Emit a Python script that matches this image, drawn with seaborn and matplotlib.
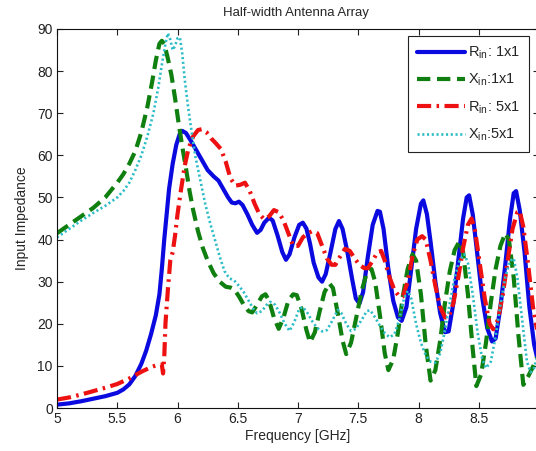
import matplotlib
matplotlib.use("Agg")
from matplotlib import pyplot as plt
import seaborn as sns

# R_in 1x1 (blue solid)
r11_f = [5.00, 5.10, 5.20, 5.30, 5.40, 5.50, 5.55, 5.60, 5.65, 5.70, 5.74, 5.78, 5.82, 5.85, 5.87,
         5.89, 5.91, 5.93, 5.96, 5.99, 6.02, 6.04, 6.07, 6.11, 6.15, 6.20, 6.25, 6.30, 6.34, 6.38,
         6.42, 6.45, 6.48, 6.51, 6.54, 6.58, 6.62, 6.66, 6.69, 6.72, 6.76, 6.79, 6.83, 6.87, 6.90,
         6.93, 6.97, 7.01, 7.04, 7.07, 7.10, 7.13, 7.17, 7.20, 7.23, 7.27, 7.31, 7.34, 7.37, 7.41,
         7.45, 7.48, 7.51, 7.54, 7.58, 7.62, 7.66, 7.68, 7.71, 7.75, 7.79, 7.83, 7.86, 7.90, 7.94,
         7.98, 8.02, 8.04, 8.07, 8.10, 8.14, 8.18, 8.22, 8.25, 8.29, 8.33, 8.37, 8.40, 8.42, 8.45,
         8.49, 8.53, 8.57, 8.61, 8.64, 8.68, 8.72, 8.76, 8.79, 8.81, 8.84, 8.88, 8.92, 8.96, 9.00]
r11_v = [0.8, 1.1, 1.6, 2.2, 2.8, 3.6, 4.4, 5.6, 7.6, 10.5, 13.6, 17.5, 22, 27, 33,
         40, 46, 52, 58, 62.5, 65.2, 65.8, 65.3, 63.5, 61.5, 59, 56.5, 55, 54, 52,
         50, 48.8, 48.6, 49, 48.2, 46, 43.5, 41.6, 42.3, 44, 45.2, 44.5, 41, 37, 35.2,
         36.5, 40.5, 43.5, 44, 42.6, 39, 34.5, 31, 30, 31.8, 37, 42.5, 44.4, 42.5, 37,
         30.5, 26, 24.8, 27.5, 36, 43.5, 46.8, 46.6, 42.5, 33, 25.5, 21.5, 20.7, 24, 33,
         42.5, 48.5, 49.3, 46, 39.5, 30, 22.5, 18, 18.2, 25, 35, 45, 50, 50.5, 46,
         36, 26, 19, 15.8, 16.5, 24, 34, 45, 51, 51.5, 47, 37, 24, 15, 10]

# X_in 1x1 (green dashed)
x11_f = [5.00, 5.10, 5.20, 5.30, 5.40, 5.50, 5.55, 5.60, 5.65, 5.70, 5.75, 5.79, 5.82, 5.85, 5.87,
         5.89, 5.92, 5.95, 5.98, 6.01, 6.04, 6.07, 6.10, 6.13, 6.17, 6.21, 6.25, 6.30, 6.35, 6.40,
         6.44, 6.47, 6.51, 6.55, 6.59, 6.62, 6.66, 6.70, 6.73, 6.76, 6.80, 6.84, 6.88, 6.92, 6.96,
         6.99, 7.03, 7.07, 7.10, 7.14, 7.18, 7.22, 7.26, 7.29, 7.33, 7.37, 7.40, 7.44, 7.48, 7.53,
         7.57, 7.61, 7.64, 7.68, 7.72, 7.75, 7.79, 7.83, 7.87, 7.91, 7.95, 7.98, 8.02, 8.06, 8.10,
         8.14, 8.18, 8.22, 8.26, 8.30, 8.34, 8.37, 8.41, 8.45, 8.48, 8.52, 8.56, 8.60, 8.64, 8.68,
         8.72, 8.75, 8.79, 8.83, 8.87, 8.91, 8.95, 9.00]
x11_v = [41.5, 43.5, 45.5, 47.5, 50, 53.5, 55.5, 58, 61, 65.5, 71.5, 77.5, 82.5, 86.5, 87.2,
         86.5, 83, 79, 73.5, 67.5, 62, 57, 51.5, 47, 42, 38, 35, 32, 30, 28.8,
         28.6, 28.2, 26.5, 24.5, 23, 22.7, 24.5, 26.5, 27, 25.5, 21.5, 18.8, 21.5, 25.5, 27,
         26.8, 23.5, 18.5, 15.6, 18, 23, 27.5, 29.6, 28.5, 22.5, 16, 12.8, 15.5, 21, 28,
         32, 33, 30, 22, 13, 9, 11.5, 18, 26.5, 33, 36.5, 35, 27, 15, 6.5,
         9, 16, 25, 32.5, 37.5, 39.6, 37, 27, 14, 5.2, 8, 15.5, 25, 33, 38.5,
         41.5, 40, 31, 17, 5.5, 7.5, 9.8, 13]

# R_in 5x1 (red dash-dot)
r51_f = [5.00, 5.10, 5.20, 5.30, 5.40, 5.50, 5.60, 5.70, 5.78, 5.84, 5.87, 5.88, 5.89, 5.90, 5.92,
         5.94, 5.96, 5.98, 6.00, 6.03, 6.06, 6.09, 6.13, 6.17, 6.20, 6.24, 6.28, 6.32, 6.36, 6.40,
         6.44, 6.48, 6.52, 6.56, 6.60, 6.64, 6.68, 6.72, 6.76, 6.80, 6.84, 6.88, 6.92, 6.96, 7.00,
         7.04, 7.08, 7.12, 7.16, 7.20, 7.24, 7.28, 7.31, 7.35, 7.39, 7.43, 7.47, 7.51, 7.55, 7.58,
         7.62, 7.66, 7.69, 7.72, 7.76, 7.80, 7.84, 7.87, 7.91, 7.95, 7.99, 8.03, 8.06, 8.10, 8.14,
         8.18, 8.22, 8.25, 8.29, 8.33, 8.37, 8.41, 8.44, 8.47, 8.51, 8.55, 8.59, 8.62, 8.66, 8.70,
         8.74, 8.78, 8.82, 8.84, 8.87, 8.91, 8.95, 9.00]
r51_v = [2.0, 2.5, 3.2, 4.0, 4.8, 5.7, 7.0, 8.6, 9.7, 10.3, 10.3, 8.2, 12, 20, 28,
         35, 37, 41, 46, 52, 57.5, 61.5, 64.5, 66, 66.2, 65.5, 64, 62.8, 61.5, 58.5,
         54.5, 52.8, 53, 53.5, 51.5, 48.5, 46, 44.8, 45.5, 47, 46.5, 44.5, 41.5, 38.5, 38.5,
         40.5, 41.5, 42, 41.5, 38.5, 35.5, 34, 34, 36, 37.8, 37.3, 35.5, 34, 33.2, 33.2,
         35, 37, 37.3, 35, 31, 28, 26.5, 26.5, 30, 36, 40, 40.8, 40, 35, 29,
         24, 21.5, 21.5, 25, 31, 38, 43.5, 45, 42, 34, 26, 20, 18.7, 21, 27,
         35, 42.5, 46.5, 46.8, 43, 34, 24, 16]

# X_in 5x1 (cyan dotted)
x51_f = [5.00, 5.10, 5.20, 5.30, 5.40, 5.50, 5.55, 5.60, 5.65, 5.70, 5.75, 5.80, 5.84, 5.87, 5.90,
         5.92, 5.94, 5.96, 5.98, 6.00, 6.02, 6.04, 6.06, 6.09, 6.12, 6.15, 6.19, 6.23, 6.27, 6.31,
         6.35, 6.39, 6.43, 6.47, 6.51, 6.55, 6.59, 6.63, 6.66, 6.70, 6.74, 6.77, 6.81, 6.85, 6.89,
         6.93, 6.97, 7.01, 7.04, 7.08, 7.12, 7.16, 7.20, 7.24, 7.28, 7.33, 7.36, 7.40, 7.44, 7.48,
         7.53, 7.57, 7.60, 7.64, 7.68, 7.72, 7.76, 7.80, 7.84, 7.88, 7.91, 7.94, 7.98, 8.02, 8.06,
         8.10, 8.14, 8.18, 8.22, 8.26, 8.30, 8.34, 8.38, 8.41, 8.45, 8.49, 8.53, 8.56, 8.60, 8.64,
         8.68, 8.72, 8.76, 8.79, 8.82, 8.86, 8.90, 8.93, 8.96, 9.00]
x51_v = [40.5, 42.5, 44.5, 46.3, 48, 50, 51.5, 53.5, 56.5, 60, 64.5, 70, 76, 81.5, 86.5,
         89, 87.5, 85, 86, 87.8, 88, 84, 78, 71, 65, 59.5, 54, 48.5, 44, 40,
         36, 32.5, 30.8, 30.3, 29, 27.5, 25.5, 23.5, 22.5, 23, 24.5, 25.2, 24.5, 22.5, 20,
         18.3, 20.5, 23.5, 24, 22.5, 20.5, 19, 18.2, 18.5, 20.5, 23.3, 22.5, 20, 18.3, 18.8,
         21, 23, 23.2, 21.5, 19.5, 17.8, 16.8, 17.5, 21, 26, 27.8, 26, 20, 15.5, 12.5,
         11, 10.8, 13, 18.5, 25, 31, 35, 36.5, 34.5, 27, 18, 11.5, 9.5, 11, 17,
         24.5, 31, 35, 35.5, 31, 21, 11, 8.5, 9.5, 14]

labels = ['$R_{in}$: 1x1', '$X_{in}$:1x1', '$R_{in}$: 5x1', '$X_{in}$:5x1']
x_ticks = [5, 5.5, 6, 6.5, 7, 7.5, 8, 8.5, 9]
x_tick_labels = ['5', '5.5', '6', '6.5', '7', '7.5', '8', '8.5', '']
y_ticks = [0, 10, 20, 30, 40, 50, 60, 70, 80, 90]

sns.set_style('ticks')
plt.rcParams['font.family'] = ['Liberation Sans', 'DejaVu Sans']
plt.rcParams['mathtext.default'] = 'regular'

fig = plt.figure(figsize=(5.36, 4.51), dpi=100)
# the axes run a little past the right edge, as in the cropped original
ax = fig.add_axes([57 / 536, 43 / 451, 482 / 536, 379 / 451])

sns.lineplot(x=r11_f, y=r11_v, ax=ax, color='#0a0ae0', lw=3.0, label=labels[0],
             sort=False, estimator=None)
sns.lineplot(x=x11_f, y=x11_v, ax=ax, color='#0f800f', lw=3.0, label=labels[1],
             sort=False, estimator=None)
sns.lineplot(x=r51_f, y=r51_v, ax=ax, color='#ee1111', lw=3.0, label=labels[2],
             sort=False, estimator=None)
sns.lineplot(x=x51_f, y=x51_v, ax=ax, color='#2cbcc6', lw=1.9, label=labels[3],
             sort=False, estimator=None)

lines = ax.get_lines()
lines[1].set_dashes([3.2, 1.6])
lines[2].set_dashes([3.4, 1.3, 0.6, 1.3])
lines[3].set_dashes([0.8, 1.0])

ax.set_xlim(5, 9)
ax.set_ylim(0, 90)
ax.set_xticks(x_ticks)
ax.set_xticklabels(x_tick_labels)
ax.set_yticks(y_ticks)
ax.tick_params(direction='in', length=4, width=0.8, top=True, right=True,
               labelsize=10, colors='#222222', pad=3)
for s in ax.spines.values():
    s.set_linewidth(0.8)
    s.set_color('#111111')

ax.set_xlabel('Frequency [GHz]', fontsize=10, labelpad=2)
ax.set_ylabel('Input Impedance', fontsize=10, labelpad=6)
fig.text(0.553, 0.972, 'Half-width Antenna Array', ha='center', va='center', fontsize=9.5)

leg = ax.legend(loc='upper right', bbox_to_anchor=(529 / 536, 1 - 36 / 451),
                bbox_transform=fig.transFigure, borderaxespad=0, fontsize=10.5,
                handlelength=3.3, handletextpad=0.2, labelspacing=0.75, borderpad=0.6,
                fancybox=False, framealpha=1, edgecolor='#222222')
leg.get_frame().set_linewidth(0.8)

fig.savefig('out.png', dpi=100)
